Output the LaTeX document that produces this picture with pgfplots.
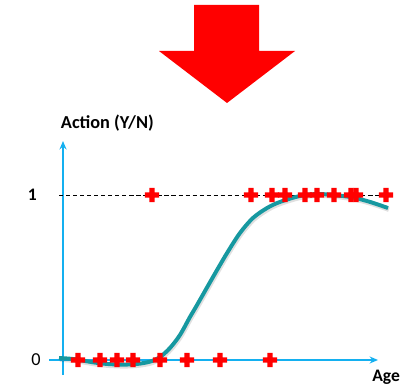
\documentclass[border=0pt]{standalone}
\usepackage{pgfplots}
\pgfplotsset{compat=1.18}
\usepackage{fontspec}
\setmainfont{Carlito}
\usetikzlibrary{arrows.meta}

\definecolor{axisblue}{RGB}{20,176,240}
\definecolor{curveteal}{RGB}{22,152,160}
\definecolor{markred}{RGB}{255,0,0}

% solid, thick plus sign: two filled bars
\pgfdeclareplotmark{thickplus}{%
  \pgfpathrectangle{\pgfpoint{-\pgfplotmarksize}{-0.36\pgfplotmarksize}}%
    {\pgfpoint{2\pgfplotmarksize}{0.72\pgfplotmarksize}}%
  \pgfpathrectangle{\pgfpoint{-0.36\pgfplotmarksize}{-\pgfplotmarksize}}%
    {\pgfpoint{0.72\pgfplotmarksize}{2\pgfplotmarksize}}%
  \pgfusepathqfill}

\begin{document}
\begin{tikzpicture}
\begin{axis}[
  name=main,
  width=10cm, height=9.625cm, scale only axis,
  xmin=-63, xmax=337,
  ymin=-0.1515, ymax=2.1818,
  hide axis, clip=false,
]
% big red arrow pointing down
\fill[markred] (axis cs:131,2.1515) -- (axis cs:196,2.1515) -- (axis cs:196,1.8727)
  -- (axis cs:232,1.8727) -- (axis cs:164,1.5576) -- (axis cs:96,1.8727)
  -- (axis cs:131,1.8727) -- cycle;

% axes
\draw[axisblue, line width=1.2pt, -{Stealth[length=6pt,width=5pt]}]
  (axis cs:0,-0.091) -- (axis cs:0,1.327);
\draw[axisblue, line width=1.2pt, -{Stealth[length=6pt,width=5pt]}]
  (axis cs:-14,0) -- (axis cs:315,0);

% observations: action = 1
\addplot[only marks, mark=thickplus, mark size=5pt, markred] coordinates {
  (89,1) (188,1) (209,1) (222,1) (242,1) (254,1) (271,1) (288,1) (293,1) (323,1)
};
% observations: action = 0
\addplot[only marks, mark=thickplus, mark size=5pt, markred] coordinates {
  (15,0) (37,0) (54,0) (70,0) (97,0) (124,0) (157,0) (207,0)
};

% reference line at y = 1
\draw[black, densely dashed, line width=0.5pt] (axis cs:-4,1) -- (axis cs:329,1);

% fitted curve (soft shadow, then the line)
\addplot[black, opacity=0.12, line width=3.2pt, smooth, tension=0.5,
  shift={(0.6pt,-1.2pt)}] coordinates {
  (-4,0.012) (10,0.006) (30,-0.014) (44,-0.024) (60,-0.028) (74,-0.024)
  (87,-0.010) (97,0.018) (107,0.073) (117,0.152) (127,0.261) (134,0.333)
  (150,0.503) (164,0.648) (177,0.770) (190,0.861) (204,0.921) (217,0.958)
  (237,0.994) (257,1.006) (287,0.988) (307,0.958) (325,0.921)
};
\addplot[curveteal, line width=2.8pt, smooth, tension=0.5] coordinates {
  (-4,0.012) (10,0.006) (30,-0.014) (44,-0.024) (60,-0.028) (74,-0.024)
  (87,-0.010) (97,0.018) (107,0.073) (117,0.152) (127,0.261) (134,0.333)
  (150,0.503) (164,0.648) (177,0.770) (190,0.861) (204,0.921) (217,0.958)
  (237,0.994) (257,1.006) (287,0.988) (307,0.958) (325,0.921)
};

% labels
\node[anchor=base west, font=\bfseries\fontsize{13}{15}\selectfont] at (axis cs:-7,1.4) {Action (Y/N)};
\node[anchor=east, font=\bfseries\fontsize{12.5}{14}\selectfont, inner sep=0pt] at (axis cs:-26,1) {1};
\node[anchor=east, font=\fontsize{13}{14}\selectfont, inner sep=0pt] at (axis cs:-22,0) {0};
\node[anchor=base west, font=\bfseries\fontsize{12.5}{14}\selectfont, inner sep=0pt] at (axis cs:309,-0.133) {Age};
\end{axis}
\pgfresetboundingbox
\path (main.south west) rectangle (main.north east);
\end{tikzpicture}
\end{document}
